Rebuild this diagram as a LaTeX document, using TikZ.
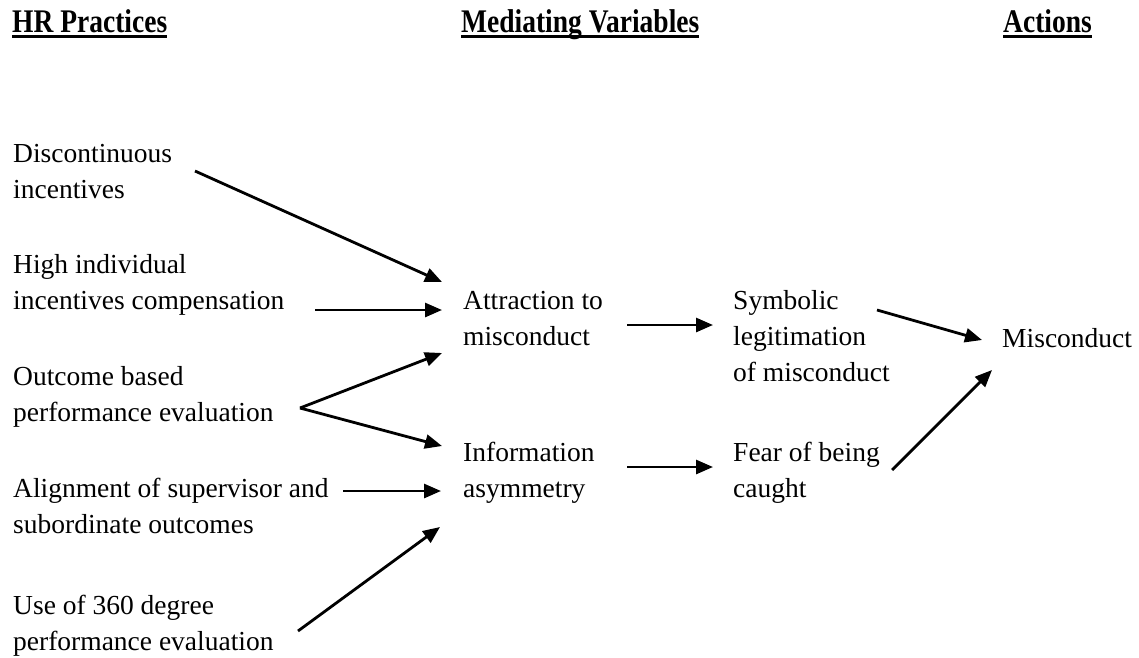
\documentclass[tikz,border=0pt]{standalone}
\usepackage{fontspec}
\setmainfont{Liberation Serif}
\usetikzlibrary{arrows.meta}
\begin{document}
\begin{tikzpicture}[x=1pt,y=-1pt,
  lbl/.style={anchor=base west,inner sep=0pt,align=left,font=\fontsize{27.5}{36}\selectfont},
  head/.style={anchor=base west,inner sep=0pt,font=\fontsize{27.5}{33}\selectfont\bfseries},
  uline/.style={line width=3.3pt},
  arr/.style={line width=2.8pt,-{Triangle[length=17pt,width=14pt]}}]
\useasboundingbox (0,0) rectangle (1139,657);
% headings
\node[head] (h1) at (12,32) {\scalebox{1}[1.2]{HR Practices}};
\node[head] (h2) at (461,32) {\scalebox{1}[1.2]{Mediating Variables}};
\node[head] (h3) at (1003,32) {\scalebox{1}[1.2]{Actions}};
\draw[uline] ([yshift=-4.5pt]h1.base west) -- ([yshift=-4.5pt]h1.base east);
\draw[uline] ([yshift=-4.5pt]h2.base west) -- ([yshift=-4.5pt]h2.base east);
\draw[uline] ([yshift=-4.5pt]h3.base west) -- ([yshift=-4.5pt]h3.base east);
% left column (anchor = baseline of last line)
\node[lbl] (dis) at (13,198) {Discontinuous\\incentives};
\node[lbl] (high) at (13,309) {High individual\\incentives compensation};
\node[lbl] (out) at (13,421) {Outcome based\\performance evaluation};
\node[lbl] (ali) at (13,533) {Alignment of supervisor and\\subordinate outcomes};
\node[lbl] (use) at (13,650) {Use of 360 degree\\performance evaluation};
% middle
\node[lbl] (att) at (463,345) {Attraction to\\misconduct};
\node[lbl] (inf) at (463,497) {Information\\asymmetry};
\node[lbl] (sym) at (733,381) {Symbolic\\legitimation\\of misconduct};
\node[lbl] (fear) at (733,497) {Fear of being\\caught};
\node[lbl] (mis) at (1002,347) {Misconduct};
% arrow end points
\coordinate (disS) at (195,171);
\coordinate (attA) at (442,282);
\coordinate (highS) at (315,310);
\coordinate (attB) at (442,310);
\coordinate (outS) at (300,408);
\coordinate (attC) at (442,353);
\coordinate (infA) at (442,446);
\coordinate (aliS) at (343,491);
\coordinate (infB) at (441,491);
\coordinate (useS) at (298,631);
\coordinate (infC) at (440,527);
\coordinate (attS) at (627,325);
\coordinate (symA) at (713,325);
\coordinate (infS) at (627,467);
\coordinate (fearA) at (713,467);
\coordinate (symS) at (877,310);
\coordinate (misA) at (982,340);
\coordinate (fearS) at (892,470);
\coordinate (misB) at (992,370);
\draw[arr] (disS) -- (attA);
\draw[arr] (highS) -- (attB);
\draw[arr] (outS) -- (attC);
\draw[arr] (outS) -- (infA);
\draw[arr] (aliS) -- (infB);
\draw[arr] (useS) -- (infC);
\draw[arr] (attS) -- (symA);
\draw[arr] (infS) -- (fearA);
\draw[arr] (symS) -- (misA);
\draw[arr] (fearS) -- (misB);
\end{tikzpicture}
\end{document}
